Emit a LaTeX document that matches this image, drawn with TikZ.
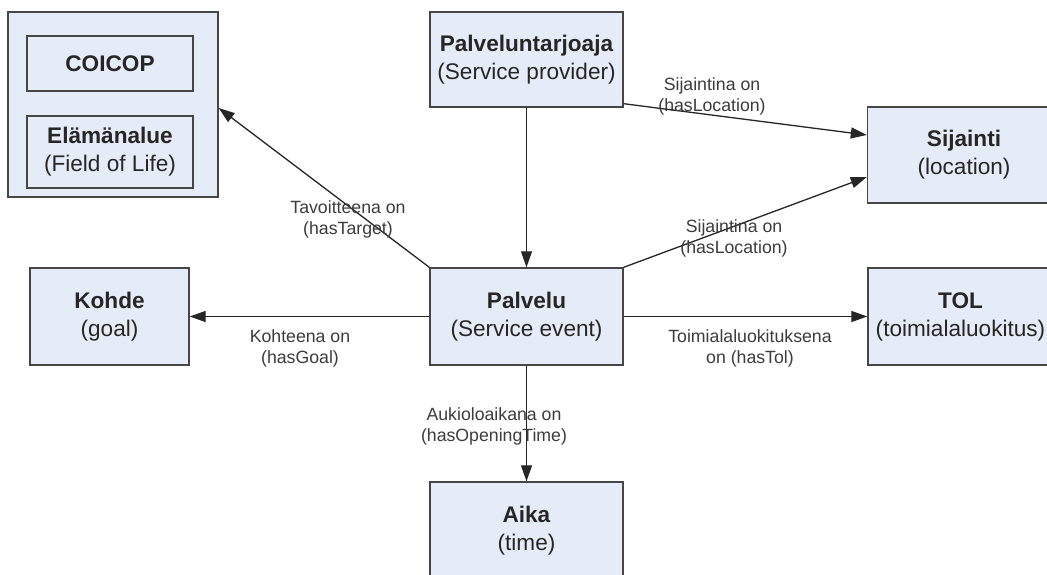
\documentclass[tikz,border=0pt]{standalone}
\usepackage{fontspec}
\setmainfont{Liberation Sans}
\usetikzlibrary{arrows.meta, positioning, calc}

\definecolor{boxfill}{RGB}{230,236,247}
\definecolor{boxline}{RGB}{70,70,70}
\definecolor{lbltext}{RGB}{60,60,60}

\begin{document}
\begin{tikzpicture}[x=1pt, y=-1pt,
    box/.style={draw=boxline, line width=1.4pt, fill=boxfill, rectangle, inner sep=0pt, align=center, text=black!85,
        font=\fontsize{22.6}{28}\selectfont},
    lbl/.style={align=center, text=lbltext, inner sep=0pt, font=\fontsize{17.7}{21}\selectfont},
    rel/.style={-{Triangle[length=16pt, width=11pt]}, line width=1.3pt, draw=black!85}]

        \useasboundingbox (0,0) rectangle (1047,575);
        \clip (0,0) rectangle (1047,575);
        \fill[white] (0,0) rectangle (1047,575);

        % group on the left
        \node[box, minimum width=210pt, minimum height=185pt] (grp) at (113,104.5) {};
        \node[box, minimum width=166pt, minimum height=55pt] (coicop) at (110,63.5) {\textbf{COICOP}};
        \node[box, minimum width=166pt, minimum height=72pt] (elam) at (110,152) {\textbf{Elämänalue}\\(Field of Life)};

        \node[box, minimum width=193pt, minimum height=95pt] (prov) at (526.5,59.5) {\textbf{Palveluntarjoaja}\\(Service provider)};
        \node[box, minimum width=193pt, minimum height=96pt] (sij) at (964,155) {\textbf{Sijainti}\\(location)};
        \node[box, minimum width=193pt, minimum height=97pt] (palv) at (526.5,316.5) {\textbf{Palvelu}\\(Service event)};
        \node[box, minimum width=159pt, minimum height=97pt] (kohde) at (109.5,316.5) {\textbf{Kohde}\\(goal)};
        \node[box, minimum width=185pt, minimum height=97pt] (tol) at (960.5,316.5) {\textbf{TOL}\\(toimialaluokitus)};
        \node[box, minimum width=193pt, minimum height=97pt] (aika) at (526.5,530.5) {\textbf{Aika}\\(time)};

        \draw[rel] (prov.south) -- (palv.north);
        \draw[rel] ([yshift=4pt]prov.south east) -- ([yshift=20pt]sij.west);
        \draw[rel] (palv.north east) -- ([yshift=-22pt]sij.west);
        \draw[rel] (palv.north west) -- ([yshift=-3.5pt]grp.east);
        \draw[rel] (palv.west) -- (kohde.east);
        \draw[rel] (palv.east) -- (tol.west);
        \draw[rel] (palv.south) -- (aika.north);

        % relation labels
        \node[lbl] (locA) at (712,96) {Sijaintina on\\(hasLocation)};
        \node[lbl] (locB) at (734,238) {Sijaintina on\\(hasLocation)};
        \node[lbl] (target) at (348,219) {Tavoitteena on\\(hasTarget)};
        \node[lbl] (goal) at (300,348) {Kohteena on\\(hasGoal)};
        \node[lbl] (tolrel) at (750,348) {Toimialaluokituksena\\on (hasTol)};
        \node[lbl] (open) at (494,426.5) {Aukioloaikana on\\(hasOpeningTime)};

\end{tikzpicture}
\end{document}
